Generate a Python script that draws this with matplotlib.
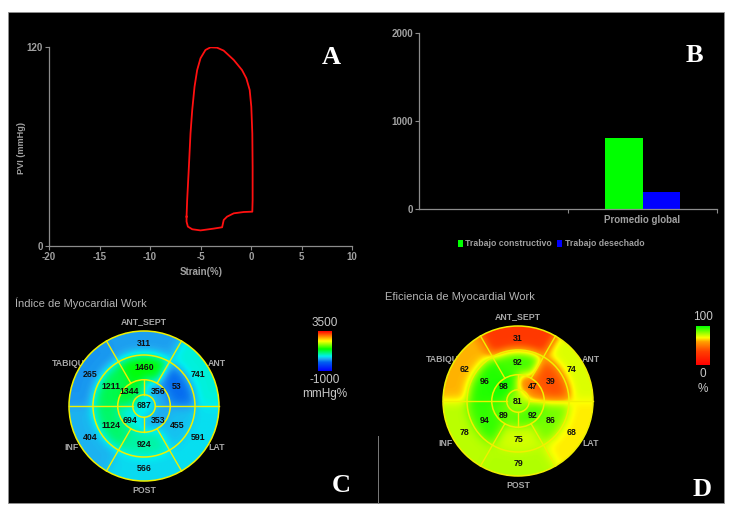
import numpy as np
import matplotlib
matplotlib.use("Agg")
from matplotlib import pyplot as plt
from matplotlib.patches import Rectangle, Circle
from matplotlib.colors import LinearSegmentedColormap
from matplotlib.lines import Line2D

plt.rcParams["axes.unicode_minus"] = False

W, H = 732, 511

# ---- panel A: pressure-strain loop ----
strain = [-6.38, -6.32, -6.15, -5.99, -5.82, -5.59, -5.33, -5.0, -4.51, -4.01,
          -3.36, -2.70, -1.71, -0.89, -0.46, -0.13, 0.03, 0.13, 0.16, 0.16,
          0.13, -0.72, -1.71, -2.37, -2.70, -2.86, -3.68, -5.0, -5.82, -6.25,
          -6.38, -6.38]
pvi = [17.7, 27.7, 47.8, 67.9, 82.0, 96.1, 106.1, 113.2, 118.2, 119.8,
       119.6, 117.8, 112.2, 106.1, 101.1, 94.1, 84.0, 67.9, 47.8, 27.7,
       20.7, 20.5, 19.7, 17.7, 15.7, 11.3, 10.5, 9.4, 10.1, 11.7,
       14.7, 17.7]

# ---- panel B: global work ----
categories = ["", "Promedio global"]
trabajo_constructivo = [np.nan, 811]
trabajo_desechado = [np.nan, 189]

# ---- panels C/D: 17-segment bullseyes ----
segment_labels = ["ANT_SEPT", "ANT", "LAT", "POST", "INF", "TABIQUE"]
work_basal = [311, 741, 591, 566, 404, 265]
work_mid = [1460, 53, 455, 924, 1124, 1211]
work_apical = [356, 353, 694, 1344]
work_apex = 687
work_range = (-1000, 3500)

eff_basal = [31, 74, 68, 79, 78, 62]
eff_mid = [92, 39, 86, 75, 94, 96]
eff_apical = [47, 92, 89, 98]
eff_apex = 81
eff_range = (0, 100)

GRAY = "#a0a0a0"
SANS = ["Liberation Sans", "DejaVu Sans"]
SMALL = 7


def fx(px):
    return px / W


def fy(py):
    return 1 - py / H


def ftext(px, py, s, **kw):
    fig.text(fx(px), fy(py), s, ha=kw.pop("ha", "center"), va=kw.pop("va", "center"), **kw)


fig = plt.figure(figsize=(W / 100, H / 100), dpi=100, facecolor="white")
fig.add_artist(Rectangle((fx(8), fy(503)), (724 - 8) / W, (503 - 12) / H,
                         transform=fig.transFigure, facecolor="black",
                         edgecolor="#909090", linewidth=0.6, zorder=-10))
fig.add_artist(Line2D([fx(378), fx(378)], [fy(436), fy(503)], transform=fig.transFigure,
                      color="#7a7a7a", linewidth=0.7, zorder=-5))


def style_axis(ax):
    ax.set_facecolor("none")
    for s in ["top", "right"]:
        ax.spines[s].set_visible(False)
    for s in ["left", "bottom"]:
        ax.spines[s].set_color("#8c8c8c")
        ax.spines[s].set_linewidth(0.9)
    ax.tick_params(colors="#8c8c8c", labelcolor=GRAY, length=3, width=0.8, labelsize=SMALL, pad=1.5)
    for lab in ax.get_xticklabels() + ax.get_yticklabels():
        lab.set_family(SANS)
        lab.set_weight("bold")


# panel A
axA = fig.add_axes([fx(49), fy(246), 303 / W, 199 / H])
axA.plot(strain, pvi, color="#ff1010", linewidth=1.3)
axA.set_xlim(-20, 10)
axA.set_ylim(0, 120)
axA.set_xticks([-20, -15, -10, -5, 0, 5, 10])
axA.set_yticks([0, 120])
style_axis(axA)
ftext(201, 272, "Strain(%)", color=GRAY, fontsize=SMALL, family=SANS, weight="bold")
ftext(22, 148, "PVI (mmHg)", color=GRAY, fontsize=SMALL - 0.4, family=SANS, weight="bold", rotation=90)
ftext(331, 58, "A", color="white", fontsize=19, family="Liberation Serif", weight="bold")

# panel B
axB = fig.add_axes([fx(419), fy(209), 298 / W, 176 / H])
x = np.arange(len(categories))
bw = 0.25
axB.bar(x - bw / 2, trabajo_constructivo, bw, color="#00ff00", label="Trabajo constructivo")
axB.bar(x + bw / 2, trabajo_desechado, bw, color="#0000ff", label="Trabajo desechado")
axB.set_xlim(-0.5, 1.5)
axB.set_ylim(0, 2000)
axB.set_yticks([0, 1000, 2000])
axB.set_xticks(x)
axB.set_xticklabels(categories)
axB.set_xticks([0.5, 1.5], minor=True)
style_axis(axB)
axB.tick_params(axis="x", which="major", length=0, pad=4)
axB.tick_params(axis="x", which="minor", length=3, color="#8c8c8c", width=0.8)
fig.legend(loc="center", bbox_to_anchor=(fx(551), fy(244)), ncol=2, frameon=False,
           handlelength=0.55, handleheight=0.9, handletextpad=0.3, columnspacing=0.6,
           labelcolor=GRAY, prop={"family": SANS, "weight": "bold", "size": 6.3})
ftext(694, 56, "B", color="white", fontsize=19, family="Liberation Serif", weight="bold")

R_APEX, R_API, R_MID = 0.15, 0.35, 0.68


def blur(a, sigma):
    k = np.arange(-int(3 * sigma), int(3 * sigma) + 1)
    g = np.exp(-0.5 * (k / sigma) ** 2)
    g /= g.sum()
    p = len(k) // 2
    a = np.pad(a, p, mode="edge")
    a = np.apply_along_axis(lambda v: np.convolve(v, g, mode="valid"), 0, a)
    a = np.apply_along_axis(lambda v: np.convolve(v, g, mode="valid"), 1, a)
    return a


def bullseye(cx, cy, rx, ry, basal, mid, apical, apex, cmap, vrange):
    lim = 1.35
    ax = fig.add_axes([fx(cx - rx * lim), fy(cy + ry * lim), 2 * rx * lim / W, 2 * ry * lim / H])
    ax.set_xlim(-lim, lim)
    ax.set_ylim(-lim, lim)
    ax.axis("off")

    n = 320
    g = np.linspace(-1.1, 1.1, n)
    gx, gy = np.meshgrid(g, g)
    r = np.hypot(gx, gy)
    th = np.degrees(np.arctan2(gy, gx))
    i6 = (((120 - th) % 360) // 60).astype(int)
    i4 = (((90 - th) % 360) // 90).astype(int)
    field = np.where(r < R_MID, np.array(mid)[i6], np.array(basal)[i6]).astype(float)
    field = np.where(r < R_API, np.array(apical)[i4], field)
    field = np.where(r < R_APEX, apex, field)
    field = blur(field, 0.07 / (2.2 / n))

    clip = Circle((0, 0), 1, transform=ax.transData)
    im = ax.imshow(field, extent=(-1.1, 1.1, -1.1, 1.1), origin="lower", cmap=cmap,
                   vmin=vrange[0], vmax=vrange[1], interpolation="bilinear", zorder=2)
    im.set_clip_path(clip)

    yel = "#f0f000"
    for rad in [1, R_MID, R_API, R_APEX]:
        ax.add_patch(Circle((0, 0), rad, fill=False, edgecolor=yel, linewidth=1.1, zorder=3))
    for ang, r0, r1 in [(0, R_APEX, 1), (180, R_APEX, 1), (60, R_API, 1), (120, R_API, 1),
                        (240, R_API, 1), (300, R_API, 1), (90, R_APEX, R_API), (270, R_APEX, R_API)]:
        a = np.radians(ang)
        ax.plot([r0 * np.cos(a), r1 * np.cos(a)], [r0 * np.sin(a), r1 * np.sin(a)],
                color=yel, linewidth=1.0, zorder=3)

    c6 = np.radians([90, 30, -30, -90, -150, 150])
    c4 = np.radians([45, -45, -135, 135])
    tk = dict(ha="center", va="center", fontsize=6.3, weight="bold", family=SANS,
              color="#101010", zorder=4)
    for a, v in zip(c6, basal):
        ax.text(0.83 * np.cos(a), 0.83 * np.sin(a), str(v), **tk)
    for a, v in zip(c6, mid):
        ax.text(0.51 * np.cos(a), 0.51 * np.sin(a), str(v), **tk)
    for a, v in zip(c4, apical):
        ax.text(0.27 * np.cos(a), 0.27 * np.sin(a), str(v), **tk)
    ax.text(0, 0, str(apex), **tk)
    for a, lab in zip(c6, segment_labels):
        ax.text(1.12 * np.cos(a), 1.12 * np.sin(a), lab, ha="center", va="center",
                fontsize=6.3, weight="bold", family=SANS, color="#a8a8a8", zorder=1)
    return ax


def colorbar(px0, py0, px1, py1, cmap):
    cax = fig.add_axes([fx(px0), fy(py1), (px1 - px0) / W, (py1 - py0) / H])
    cax.imshow(np.linspace(0, 1, 256).reshape(-1, 1), origin="lower", aspect="auto", cmap=cmap)
    cax.axis("off")


cmap_work = LinearSegmentedColormap.from_list(
    "work", [(0, "#0000ff"), (0.22, "#0060f0"), (0.3, "#20a8f0"), (0.37, "#00f0f0"),
             (0.55, "#00ff00"), (0.75, "#ffff00"), (1, "#ff0000")])
cmap_eff = LinearSegmentedColormap.from_list(
    "eff", [(0, "#ff0000"), (0.35, "#ff4000"), (0.6, "#ffa000"), (0.7, "#ffff00"), (1, "#00ff00")])

# panel C
ftext(15, 303, "Índice de Myocardial Work", ha="left", color="#b4b4b4", fontsize=8, family=SANS)
bullseye(144, 406, 80, 75, work_basal, work_mid, work_apical, work_apex, cmap_work, work_range)
colorbar(318, 331, 332, 371, cmap_work)
ftext(325, 323, str(work_range[1]), color="#c8c8c8", fontsize=8.5, family=SANS)
ftext(325, 380, str(work_range[0]), color="#c8c8c8", fontsize=8.5, family=SANS)
ftext(325, 394, "mmHg%", color="#c8c8c8", fontsize=8.5, family=SANS)
ftext(341, 485, "C", color="white", fontsize=19, family="Liberation Serif", weight="bold")

# panel D
ftext(385, 297, "Eficiencia de Myocardial Work", ha="left", color="#b4b4b4", fontsize=8, family=SANS)
bullseye(518, 401, 81, 75, eff_basal, eff_mid, eff_apical, eff_apex, cmap_eff, eff_range)
colorbar(696, 326, 710, 365, cmap_eff)
ftext(703, 317, str(eff_range[1]), color="#c8c8c8", fontsize=8.5, family=SANS)
ftext(703, 374, str(eff_range[0]), color="#c8c8c8", fontsize=8.5, family=SANS)
ftext(703, 389, "%", color="#c8c8c8", fontsize=8.5, family=SANS)
ftext(702, 489, "D", color="white", fontsize=19, family="Liberation Serif", weight="bold")

fig.savefig("out.png", dpi=100, facecolor="white")
